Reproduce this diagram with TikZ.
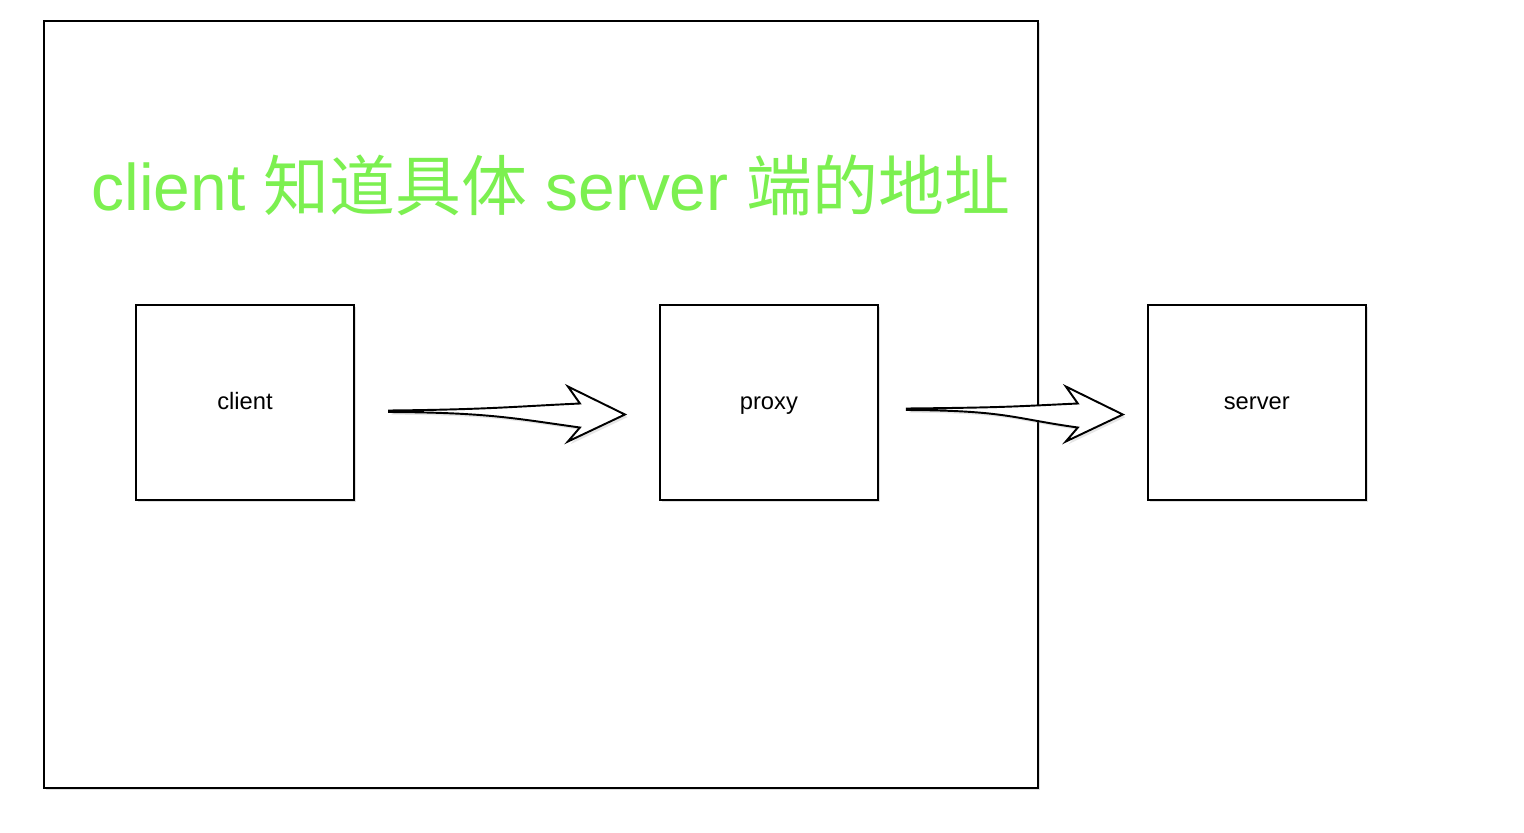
\documentclass[tikz,border=0pt]{standalone}
\usepackage{fontspec}
\setmainfont{Liberation Sans}
\newfontfamily\cjk{Noto Sans CJK SC}
\usepackage{tikz}
\usetikzlibrary{positioning,calc,shadows}
\definecolor{titlegreen}{RGB}{124,240,80}

% fat sketchy arrow from start point #1 to tip #2
\newcommand{\fatarrow}[2]{%
  \draw[arrow_style] (#1) .. controls ($(#1)+(100,-1)$) and ($(#2)+(-110,-8)$) .. ($(#2)+(-45,-11)$)
    -- ($(#2)+(-57,-28)$) -- (#2) -- ($(#2)+(-57,27)$) -- ($(#2)+(-45,13)$)
    .. controls ($(#2)+(-110,4)$) and ($(#1)+(100,2)$) .. ($(#1)+(0,1.5)$) -- cycle;
}

\begin{document}
\begin{tikzpicture}[
    x=0.02cm, y=-0.02cm,
    node distance=6.12cm,
    box_style/.style={draw=black, fill=white, line width=0.9pt, outer sep=0pt, minimum width=4.36cm, minimum height=3.9cm, inner sep=0pt, text height=1.1em, text depth=0.25em, font=\fontsize{13.5}{16}\selectfont, drop shadow={shadow xshift=1.2pt, shadow yshift=-1.2pt, opacity=0.25}},
    frame_style/.style={draw=black, fill=white, line width=0.9pt, outer sep=0pt, minimum width=19.88cm, minimum height=15.34cm, inner sep=0pt, drop shadow={shadow xshift=1.2pt, shadow yshift=-1.2pt, opacity=0.25}},
    arrow_style/.style={draw=black, fill=white, line width=1.1pt, line join=miter, drop shadow={shadow xshift=1.5pt, shadow yshift=-1.5pt, opacity=0.2}},
    title_style/.style={font=\fontsize{37.5}{42}\selectfont, inner sep=0pt, text=titlegreen}
]
\useasboundingbox (0,0) rectangle (1524,832);

% Outer frame
\node[frame_style] (frame) at (541,404.5) {};

% Title
\node[title_style] (title) at (551,185) {client {\cjk 知道具体} server {\cjk 端的地址}};

% Boxes
\node[box_style] (client) at (245,402.5) {client};
\node[box_style, right=of client] (proxy) {proxy};
\node[box_style, right=5.4cm of proxy] (server) {server};

% Arrows
\coordinate (a1s) at ($(client.east)+(35,8)$);
\coordinate (a1t) at ($(proxy.west)+(-35,12)$);
\coordinate (a2s) at ($(proxy.east)+(29,6)$);
\coordinate (a2t) at ($(server.west)+(-25,12)$);
\fatarrow{a1s}{a1t}
\fatarrow{a2s}{a2t}

\end{tikzpicture}
\end{document}
